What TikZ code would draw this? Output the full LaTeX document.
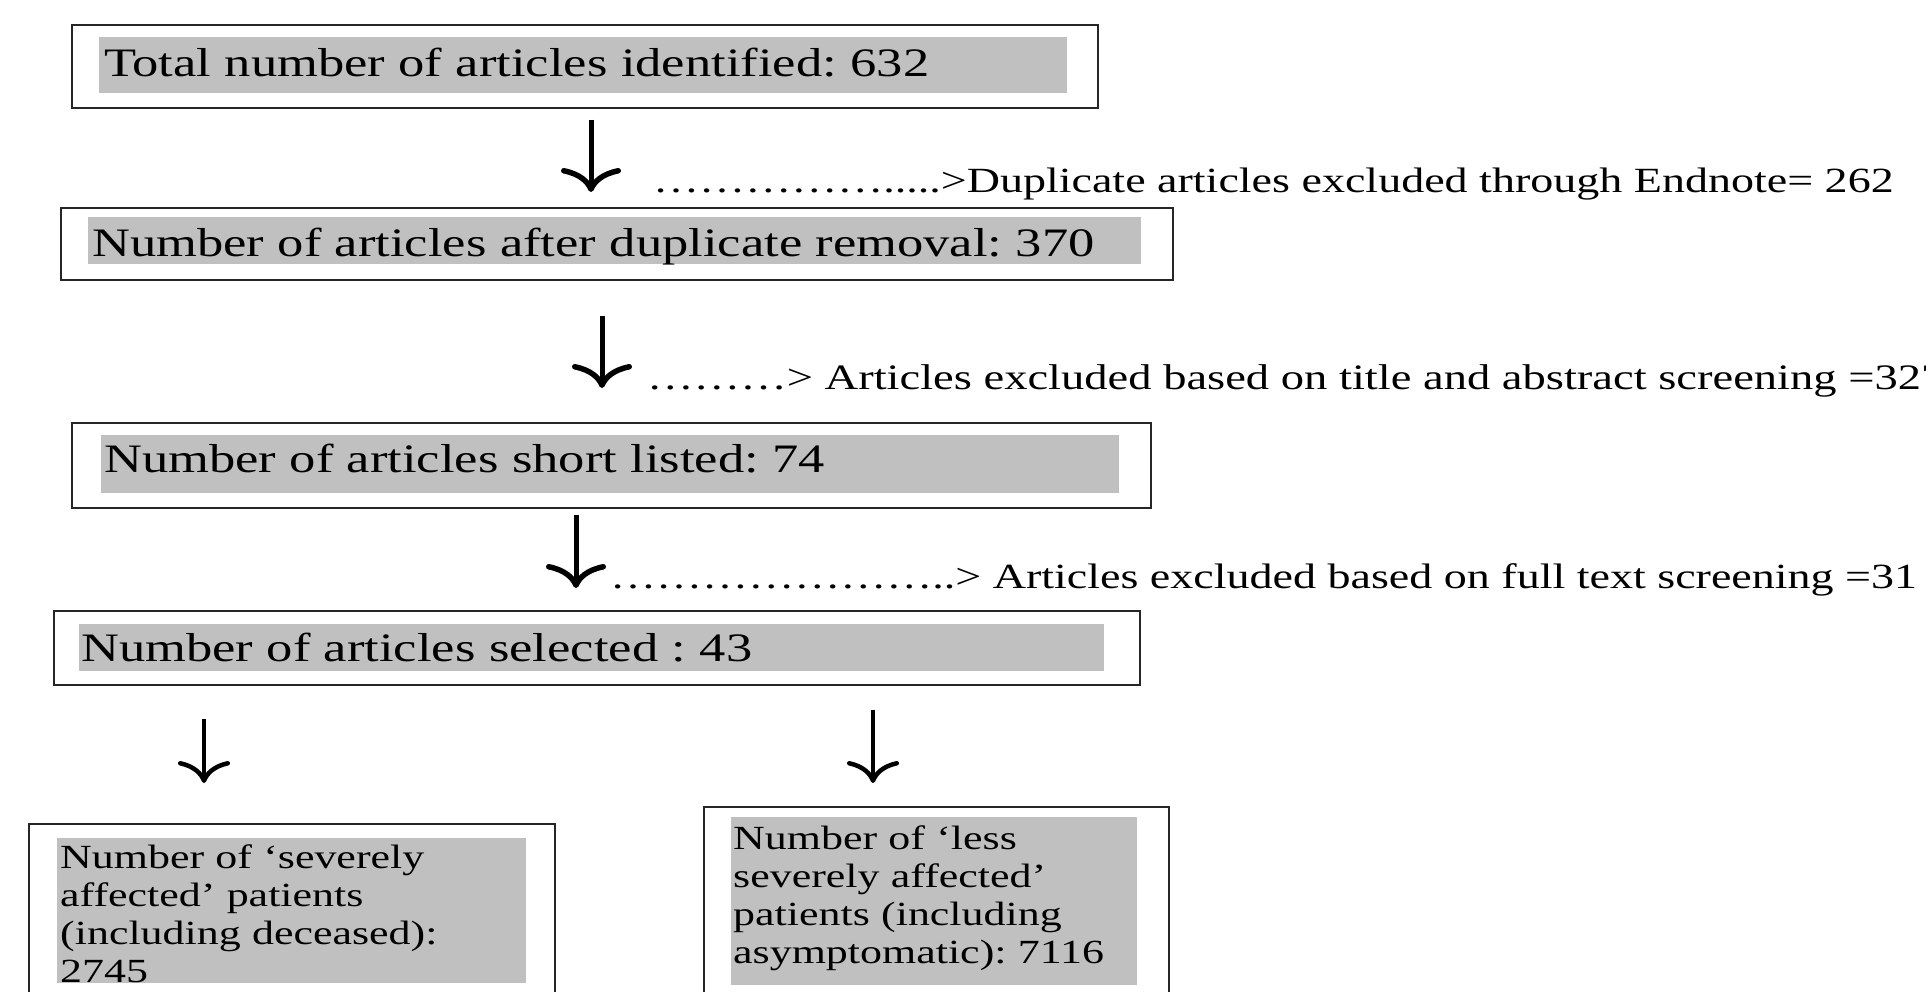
\documentclass[tikz,border=0pt]{standalone}
\usepackage{fontspec}
\setmainfont[FakeStretch=1.3]{Liberation Serif}
\usetikzlibrary{arrows.meta}
\definecolor{boxgray}{HTML}{C0C0C0}
\begin{document}
\frenchspacing
\begin{tikzpicture}[x=1pt, y=-1pt,
  every node/.style = {inner sep=0pt, anchor=north west},
  frame/.style = {draw=black!85, line width=1.6pt},
  shade/.style = {fill=boxgray, align=left, inner ysep=0pt,
    font=\fontsize{40.4}{46}\selectfont},
  lowbox/.style = {shade, font={\fontsize{33.8}{38}\selectfont\lineskiplimit=-50pt}},
  note/.style = {anchor=base west, font=\fontsize{35.4}{40}\selectfont},
  arr/.style = {line width=5pt,
    -{Computer Modern Rightarrow[length=24pt, width=60pt, line width=5.5pt]}},
  arrlow/.style = {line width=3.5pt,
    -{Computer Modern Rightarrow[length=22pt, width=52pt, line width=4.5pt]}}]
  \useasboundingbox (0,0) rectangle (1926,991);
  \clip (0,0) rectangle (1926,991);
  % outer frames
  \node[frame, minimum width=1026pt, minimum height=83pt] (f1) at (71,24) {};
  \node[frame, minimum width=1112pt, minimum height=72pt] (f2) at (60,207) {};
  \node[frame, minimum width=1079pt, minimum height=85pt] (f3) at (71,422) {};
  \node[frame, minimum width=1086pt, minimum height=74pt] (f4) at (53,610) {};
  \node[frame, minimum width=526pt, minimum height=220pt] (f5) at (28,823) {};
  \node[frame, minimum width=465pt, minimum height=220pt] (f6) at (703,806) {};
  % grey text boxes
  \node[shade, text width=958pt, inner xsep=5pt, text height=39pt, text depth=17pt]
    (g1) at (99,37) {Total number of articles identified: 632};
  \node[shade, text width=1045pt, inner xsep=4pt, text height=39pt, text depth=8pt]
    (g2) at (88,217) {Number of articles after duplicate removal: 370};
  \node[shade, text width=1012pt, inner xsep=3pt, text height=37pt, text depth=21pt]
    (g3) at (101,435) {Number of articles short listed: 74};
  \node[shade, text width=1021pt, inner xsep=2pt, text height=37pt, text depth=10pt]
    (g4) at (79,624) {Number of articles selected : 43};
  \node[lowbox, text width=462pt, inner xsep=3.5pt, text height=30pt, text depth=115pt]
    (g5) at (56.5,838) {Number of ‘severely\\ affected’ patients\\ (including deceased):\\ 2745};
  \node[lowbox, text width=402pt, inner xsep=2pt, text height=32pt, text depth=136pt]
    (g6) at (731,817) {Number of ‘less\\ severely affected’\\ patients (including\\ asymptomatic): 7116};
  % exclusion notes
  \node[note] (n1) at (653,192) {…………….....>Duplicate articles excluded through Endnote= 262};
  \node[note, font=\fontsize{35.8}{40}\selectfont] (n2) at (647,389)
    {………> Articles excluded based on title and abstract screening =327};
  \node[note] (n3) at (610,588) {…………………..> Articles excluded based on full text screening =31};
  % arrows
  \coordinate (a1) at (591,0);
  \coordinate (a2) at (602,0);
  \coordinate (a3) at (576,0);
  \coordinate (a4) at (204,0);
  \coordinate (a5) at (873,0);
  \draw[arr, shorten <=11pt, shorten >=15pt] (f1.south -| a1) -- (f2.north -| a1);
  \draw[arr, shorten <=35pt, shorten >=34pt] (f2.south -| a2) -- (f3.north -| a2);
  \draw[arr, shorten <=6pt, shorten >=22pt] (f3.south -| a3) -- (f4.north -| a3);
  \draw[arrlow, shorten <=33pt, shorten >=40pt] (f4.south -| a4) -- (f5.north -| a4);
  \draw[arrlow, shorten <=24pt, shorten >=23pt] (f4.south -| a5) -- (f6.north -| a5);
\end{tikzpicture}
\end{document}
